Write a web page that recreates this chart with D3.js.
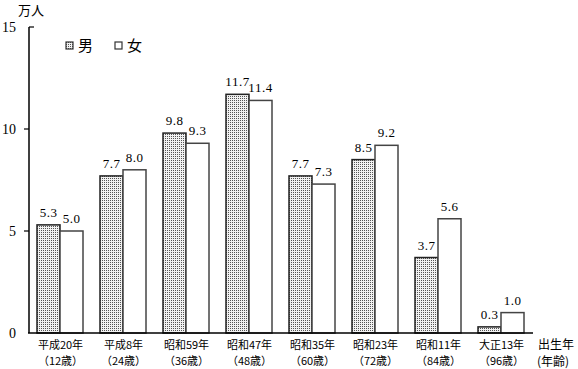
<!DOCTYPE html>
<html>
<head>
<meta charset="utf-8">
<script src="https://cdn.jsdelivr.net/npm/d3@7"></script>
<style>
  body { margin: 0; background: #fff; }
  svg { display: block; }
  .num { font-family: "Liberation Serif", "DejaVu Serif", serif; }
  .jp { font-family: "Noto Sans CJK JP", sans-serif; }
</style>
</head>
<body>
<svg id="chart" width="578" height="369"></svg>
<script>
var categories = ["平成20年", "平成8年", "昭和59年", "昭和47年", "昭和35年", "昭和23年", "昭和11年", "大正13年"];
var ages = ["（12歳）", "（24歳）", "（36歳）", "（48歳）", "（60歳）", "（72歳）", "（84歳）", "（96歳）"];
var male = [5.3, 7.7, 9.8, 11.7, 7.7, 8.5, 3.7, 0.3];
var female = [5.0, 8.0, 9.3, 11.4, 7.3, 9.2, 5.6, 1.0];
var yTicks = [0, 5, 10, 15];
var seriesNames = ["男", "女"];

var svg = d3.select("#chart");
var plotL = 29, plotR = 533, plotT = 27, plotB = 333;

var defs = svg.append("defs");
var pat = defs.append("pattern")
  .attr("id", "dots")
  .attr("patternUnits", "userSpaceOnUse")
  .attr("width", 2).attr("height", 2);
pat.append("rect").attr("width", 2).attr("height", 2).attr("fill", "#f2f2f2");
pat.append("rect").attr("width", 1).attr("height", 1).attr("fill", "#555");

var x0 = d3.scaleBand().domain(categories).range([plotL, plotR]).padding(0);
var x1 = d3.scaleBand().domain(seriesNames).range([8, x0.bandwidth() - 9]).padding(0);
var y = d3.scaleLinear().domain([0, 15]).range([plotB, plotT]);

// y axis
svg.append("line")
  .attr("x1", plotL).attr("x2", plotL)
  .attr("y1", y(15)).attr("y2", y(0))
  .attr("stroke", "#000").attr("stroke-width", 1.5);
svg.append("line")
  .attr("x1", plotL).attr("x2", plotL + 5)
  .attr("y1", y(15)).attr("y2", y(15))
  .attr("stroke", "#000").attr("stroke-width", 1.2);
svg.selectAll(".ytick")
  .data(yTicks.slice(1, 3))
  .enter().append("line")
  .attr("x1", plotL - 5).attr("x2", plotL)
  .attr("y1", function(d) { return y(d); })
  .attr("y2", function(d) { return y(d); })
  .attr("stroke", "#000").attr("stroke-width", 1.2);
svg.selectAll(".ylabel")
  .data(yTicks)
  .enter().append("text")
  .attr("class", "num")
  .attr("x", 16)
  .attr("y", function(d) { return y(d); })
  .attr("dy", "0.35em")
  .attr("text-anchor", "end")
  .style("font-size", "14px")
  .text(function(d) { return d; });

svg.append("text").attr("class", "jp")
  .attr("x", 18).attr("y", 15)
  .style("font-size", "13px")
  .text("万人");

// bars
var data = categories.map(function(c, i) {
  return { cat: c, vals: [{ key: "男", v: male[i] }, { key: "女", v: female[i] }] };
});

var grp = svg.selectAll(".grp")
  .data(data)
  .enter().append("g")
  .attr("transform", function(d) { return "translate(" + x0(d.cat) + ",0)"; });

grp.selectAll("rect")
  .data(function(d) { return d.vals; })
  .enter().append("rect")
  .attr("x", function(d) { return x1(d.key); })
  .attr("y", function(d) { return y(d.v); })
  .attr("width", x1.bandwidth())
  .attr("height", function(d) { return y(0) - y(d.v); })
  .attr("fill", function(d) { return d.key === "男" ? "url(#dots)" : "#fff"; })
  .attr("stroke", function(d) { return d.key === "男" ? "#222" : "#444"; })
  .attr("stroke-width", 1.5);

grp.selectAll(".val")
  .data(function(d) { return d.vals; })
  .enter().append("text")
  .attr("class", "num")
  .attr("x", function(d) { return x1(d.key) + x1.bandwidth() / 2; })
  .attr("y", function(d) { return y(d.v) - 8; })
  .attr("text-anchor", "middle")
  .style("font-size", "13px")
  .style("letter-spacing", "0.5px")
  .text(function(d) { return d.v.toFixed(1); });

// x axis
svg.append("line")
  .attr("x1", plotL - 1).attr("x2", plotR)
  .attr("y1", y(0)).attr("y2", y(0))
  .attr("stroke", "#000").attr("stroke-width", 1.5);

grp.append("text").attr("class", "jp")
  .attr("x", x0.bandwidth() / 2)
  .attr("y", 349)
  .attr("text-anchor", "middle")
  .style("font-size", "11px")
  .text(function(d) { return d.cat; });
grp.append("text").attr("class", "jp")
  .attr("x", x0.bandwidth() / 2)
  .attr("y", 365)
  .attr("text-anchor", "middle")
  .style("font-size", "11px")
  .text(function(d, i) { return ages[i]; });

svg.append("text").attr("class", "jp")
  .attr("x", 538).attr("y", 349)
  .style("font-size", "12px")
  .text("出生年");
svg.append("text").attr("class", "jp")
  .attr("x", 537).attr("y", 366)
  .style("font-size", "12px")
  .text("(年齢)");

// legend
var legend = svg.selectAll(".legend")
  .data(seriesNames)
  .enter().append("g")
  .attr("transform", function(d, i) { return "translate(" + (66 + i * 49) + ",42)"; });
legend.append("rect")
  .attr("width", 7).attr("height", 7)
  .attr("fill", function(d) { return d === "男" ? "url(#dots)" : "#fff"; })
  .attr("stroke", "#333").attr("stroke-width", 1.2);
legend.append("text").attr("class", "jp")
  .attr("x", 12).attr("y", 9)
  .style("font-size", "15px")
  .text(function(d) { return d; });
</script>
</body>
</html>
